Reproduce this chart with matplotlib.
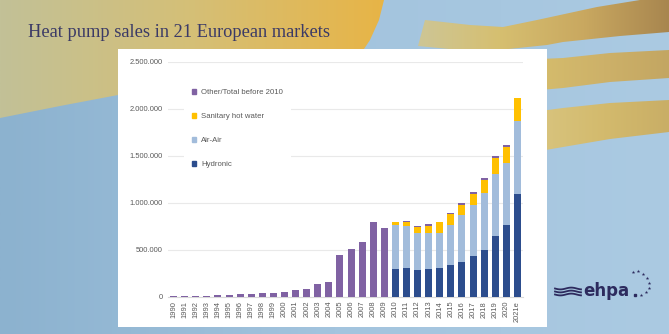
import numpy as np
import matplotlib
matplotlib.use("Agg")
import matplotlib.pyplot as plt
from matplotlib.patches import Patch, Polygon, Rectangle
from matplotlib.colors import LinearSegmentedColormap

W, H = 669, 334  # output size in pixels

# ---- data ----
years = [str(y) for y in range(1990, 2021)] + ["2021e"]
# before 2010 only a total is available
total_pre2010 = [7000, 7500, 8000, 8500, 19000, 20000, 27000, 30000, 34000, 34000,
                 48000, 69000, 83000, 133000, 151000, 441000, 505000, 583000, 796000, 729000]
# 2010 .. 2021e split by type
hydronic = [289000, 303000, 285000, 289000, 300000, 338000, 370000, 434000,
            495000, 647000, 758000, 1092000]
air_air = [470000, 452000, 392000, 390000, 379000, 428000, 496000, 539000,
           606000, 663000, 666000, 783000]
sanitary_hw = [36000, 40000, 64000, 76000, 112000, 114000, 110000, 120000,
               145000, 171000, 168000, 238000]
other_post2010 = [0, 11000, 11000, 15000, 0, 14000, 21000, 22000,
                  18000, 21000, 21000, 0]

y_ticks = [0, 500000, 1000000, 1500000, 2000000, 2500000]

C_HYD = "#2c4d8d"
C_AIR = "#a2bcdb"
C_SHW = "#ffc000"
C_OTH = "#8062a3"
TXT = "#595959"


def px(x, y):
    """pixel (from top-left) -> figure fraction"""
    return x / W, 1 - y / H


fig = plt.figure(figsize=(W / 100, H / 100), dpi=100)

# ---- decorative background ----
bg = fig.add_axes([0, 0, 1, 1], zorder=-10)
bg.axis("off")
ramp = np.linspace(0, 1, 256)[None, :]
blue = LinearSegmentedColormap.from_list("blue", ["#8cb2cf", "#a3c4de", "#abcae2"])
bg.imshow(ramp, cmap=blue, extent=[0, W, H, 0], aspect="auto")

sun = Polygon([(0, 0), (384, 0), (379, 20), (370, 40), (360, 55), (300, 75),
               (118, 95), (60, 106), (0, 118)], closed=True, fc="none", ec="none")
bg.add_patch(sun)
sun_cm = LinearSegmentedColormap.from_list("sun", ["#c2c197", "#d5bf76", "#e8b445"])
im = bg.imshow(ramp, cmap=sun_cm, extent=[0, 390, 120, 0], aspect="auto")
im.set_clip_path(sun)

# gold ribbons on the right: (outline, colours, x-range of the colour ramp)
bands = [
    ([(425, 20), (470, 25), (503, 27), (537, 20), (597, 7), (640, 0), (669, -2),
      (669, 32), (620, 36), (563, 42), (547, 45), (480, 52), (418, 46)],
     ["#cdc697", "#d6bf70", "#c9a860", "#a8864f"], (415, W)),
    ([(540, 59), (563, 58), (610, 53), (669, 50),
      (669, 78), (610, 82), (563, 88), (540, 90)],
     ["#d5bc6c", "#cdb169", "#c3a662"], (540, W)),
    ([(540, 111), (563, 108), (610, 103), (669, 100),
      (669, 132), (610, 139), (563, 147), (540, 151)],
     ["#d8c47e", "#d3ba6d", "#c9ae66"], (540, W)),
]
for pts, cols, (xa, xb) in bands:
    p = Polygon(pts, closed=True, fc="none", ec="none")
    bg.add_patch(p)
    g = bg.imshow(ramp, cmap=LinearSegmentedColormap.from_list("g", cols),
                  extent=[xa, xb, 160, -5], aspect="auto")
    g.set_clip_path(p)

# white chart panel
bg.add_patch(Rectangle((118, 49), 429, 278, fc="white", ec="none", zorder=5))

# title
bg.text(28, 37, "Heat pump sales in 21 European markets", fontsize=13.2,
        family="Liberation Serif", color="#3b3a66", va="baseline", ha="left", zorder=6)

# ehpa logo
logo = "#2d2b5e"
bg.text(583, 296, "ehpa", fontsize=12, fontweight="bold", color=logo,
        va="baseline", ha="left", zorder=6)
bg.plot([634.5], [294.5], "s", ms=2, color=logo, zorder=6)
wx = np.linspace(555, 581, 60)
for base in (288.5, 291.5, 294.5):
    bg.plot(wx, base + 0.9 * np.sin((wx - 555) / 26 * 2 * np.pi * 1.2), color=logo,
            lw=1.3, zorder=6)
stars = [(633, 272), (638, 271), (643, 274), (647, 278), (649, 283), (649, 288),
         (646, 292), (641, 295)]
bg.scatter([s[0] for s in stars], [s[1] for s in stars], marker="*", s=7,
           color=logo, linewidths=0, zorder=6)

bg.set_xlim(0, W)
bg.set_ylim(H, 0)

# ---- chart ----
x0, x1 = px(168, 0)[0], px(523, 0)[0]
y0, y1 = px(0, 296.6)[1], px(0, 62)[1]
ax = fig.add_axes([x0, y0, x1 - x0, y1 - y0], zorder=1)
ax.set_facecolor("none")

n_pre = len(total_pre2010)
zeros = [0] * n_pre
hyd = np.array(zeros + hydronic, float)
aa = np.array(zeros + air_air, float)
shw = np.array(zeros + sanitary_hw, float)
oth = np.array(total_pre2010 + other_post2010, float)
x = np.arange(len(years))
w = 0.63

ax.bar(x, hyd, w, color=C_HYD, zorder=3)
ax.bar(x, aa, w, bottom=hyd, color=C_AIR, zorder=3)
ax.bar(x, shw, w, bottom=hyd + aa, color=C_SHW, zorder=3)
ax.bar(x, oth, w, bottom=hyd + aa + shw, color=C_OTH, zorder=3)

ax.set_xlim(-0.5, len(years) - 0.5)
ax.set_ylim(0, 2500000)
ax.set_yticks(y_ticks)
ax.set_yticklabels([f"{v:,}".replace(",", ".") for v in y_ticks],
                   fontsize=5.4, color=TXT, family="Liberation Sans")
ax.set_xticks(x)
ax.set_xticklabels(years, rotation=90, fontsize=5.4, color=TXT, family="Liberation Sans")
ax.tick_params(length=0, pad=4)
ax.tick_params(axis="x", pad=3)
ax.grid(axis="y", color="#e9e9e9", lw=0.8, zorder=0)
for s in ("top", "right", "left"):
    ax.spines[s].set_visible(False)
ax.spines["bottom"].set_color("#d9d9d9")
ax.spines["bottom"].set_linewidth(0.8)

handles = [Patch(color=C_OTH, label="Other/Total before 2010"),
           Patch(color=C_SHW, label="Sanitary hot water"),
           Patch(color=C_AIR, label="Air-Air"),
           Patch(color=C_HYD, label="Hydronic")]
leg = ax.legend(handles=handles, loc="upper left", bbox_to_anchor=px(184, 81),
                bbox_transform=fig.transFigure, prop={"family": "Liberation Sans", "size": 5.6},
                frameon=True, fancybox=False, facecolor="white", edgecolor="none",
                framealpha=1, handlelength=0.6, handleheight=0.6, handletextpad=0.6,
                labelspacing=2.15, borderpad=1.0, borderaxespad=0)
for t in leg.get_texts():
    t.set_color(TXT)
leg.set_zorder(2)

fig.savefig("out.png", dpi=100)
